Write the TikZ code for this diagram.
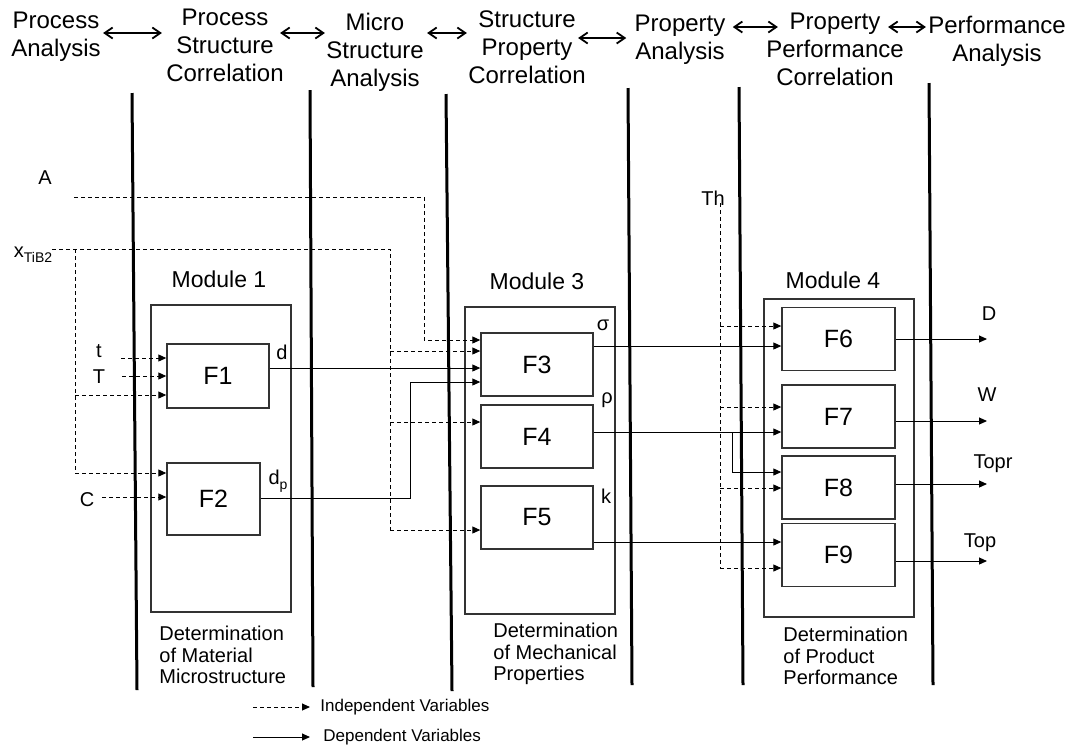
\documentclass[tikz,border=0pt]{standalone}
\usepackage{fontspec}
\setmainfont{Liberation Sans}
\usetikzlibrary{arrows.meta,positioning}
\tikzset{
  divider/.style  = {line width=1.5pt},
  head/.style     = {align=center, inner sep=0pt, anchor=north, font=\fontsize{12}{14}\selectfont},
  harrow/.style   = {{Straight Barb[length=4pt,width=5.5pt]}-{Straight Barb[length=4pt,width=5.5pt]}, line width=0.9pt},
  modbox/.style   = {draw=black!80, line width=0.7pt},
  modlabel/.style = {inner sep=0pt, font=\fontsize{11.5}{13}\selectfont},
  fbox/.style     = {draw=black!80, line width=0.7pt, minimum width=56pt, minimum height=31.5pt, inner sep=0pt, font=\fontsize{12.5}{14}\selectfont},
  var/.style      = {inner sep=0pt, font=\fontsize{10}{12}\selectfont},
  dline/.style    = {dash pattern=on 2pt off 1.5pt, line width=0.5pt},
  indep/.style    = {dline, -{Triangle[length=4pt,width=3.5pt]}},
  dep/.style      = {line width=0.5pt, -{Triangle[length=4pt,width=3.5pt]}},
  detnote/.style  = {anchor=north west, align=left, inner sep=0pt, font=\fontsize{10}{10.75}\selectfont},
  legend/.style   = {anchor=west, inner sep=0pt, font=\fontsize{8.5}{10}\selectfont}
}
\newcommand{\sub}[1]{\raisebox{-0.45ex}{\fontsize{7}{8}\selectfont #1}}

\begin{document}
\begin{tikzpicture}[x=0.5pt, y=-0.5pt]
  \useasboundingbox (0,0) rectangle (1074,746);

  % column dividers
  \draw[divider] (132,93) -- (137,690);
  \draw[divider] (310,90) -- (313,687);
  \draw[divider] (446,94) -- (452,691);
  \draw[divider] (628,88) -- (632,685);
  \draw[divider] (739,87) -- (743,685);
  \draw[divider] (929,83) -- (933,685);

  % stage headings
  \node[head] (h1) at (56,12)  {Process\\Analysis};
  \node[head] (h2) at (225,9)  {Process\\Structure\\Correlation};
  \node[head] (h3) at (375,13) {Micro\\Structure\\Analysis};
  \node[head] (h4) at (527,10) {Structure\\Property\\Correlation};
  \node[head] (h5) at (680,15) {Property\\Analysis};
  \node[head] (h6) at (835,13) {Property\\Performance\\Correlation};
  \node[head] (h7) at (997,16) {Performance\\Analysis};
  \draw[harrow, shorten <=1pt,  shorten >=2pt]   (h1.east |- 0,33) -- (h2.west |- 0,33);
  \draw[harrow, shorten <=-2pt, shorten >=0.5pt] (h2.east |- 0,33) -- (h3.west |- 0,33);
  \draw[harrow, shorten <=1.5pt,shorten >=0.5pt] (h3.east |- 0,33) -- (h4.west |- 0,33);
  \draw[harrow, shorten <=-4pt, shorten >=4pt]   (h4.east |- 0,38) -- (h5.west |- 0,38);
  \draw[harrow, shorten <=3.5pt,shorten >=-6pt]  (h5.east |- 0,27) -- (h6.west |- 0,27);
  \draw[harrow, shorten <=-8pt, shorten >=1pt]   (h6.east |- 0,27) -- (h7.west |- 0,27);

  % modules
  \draw[modbox] (151,305) rectangle (291,612);
  \node[modlabel] (m1) at (219,279) {Module 1};
  \draw[modbox] (465,307) rectangle (615,614);
  \node[modlabel] (m3) at (537,281) {Module 3};
  \draw[modbox] (764,299) rectangle (914,617);
  \node[modlabel] (m4) at (833,280) {Module 4};

  \node[fbox, minimum width=51pt, minimum height=32pt] (f1) at (218,376) {F1};
  \node[fbox, minimum width=46.5pt, minimum height=36pt] (f2) at (213.5,499) {F2};
  \node[fbox] (f3) at (537,364.5) {F3};
  \node[fbox] (f4) at (537,436.5) {F4};
  \node[fbox] (f5) at (537,517.5) {F5};
  \node[fbox, minimum width=56.5pt] (f6) at (838.5,339)   {F6};
  \node[fbox, minimum width=56.5pt] (f7) at (838.5,416.5) {F7};
  \node[fbox, minimum width=56.5pt] (f8) at (838.5,487.5) {F8};
  \node[fbox, minimum width=56.5pt] (f9) at (838.5,555)   {F9};

  % variables
  \node[var] (A)    at (45,178)  {A};
  \node[var] (xtib) at (33,255)  {x\sub{TiB2}};
  \node[var] (t)    at (99,351)  {t};
  \node[var] (T)    at (99,377)  {T};
  \node[var] (C)    at (87,500)  {C};
  \node[var] (d)    at (282,352) {d};
  \node[var] (dp)   at (278,481) {d\sub{p}};
  \node[var] (sig)  at (603,325) {σ};
  \node[var] (rho)  at (607,400) {ρ};
  \node[var] (kap)  at (606,496) {k};
  \node[var] (Th)   at (713,198) {Th};
  \node[var] (D)    at (989,314) {D};
  \node[var] (W)    at (987,395) {W};
  \node[var] (Topr) at (993,464) {Topr};
  \node[var] (Top)  at (980,543) {Top};

  % independent inputs
  \coordinate (a0) at (74,197);
  \coordinate (aknee) at (424,340);
  \draw[indep] (a0) -| (aknee) -- (aknee -| f3.west);

  \coordinate (x0) at (52,249);
  \coordinate (xr) at (390,530);
  \coordinate (xl) at (75,473);
  \draw[dline] (x0) -| (xr);
  \draw[indep] (xr) -- (xr -| f5.west);
  \foreach \y/\f in {351/f3, 422/f4}
    \draw[indep] (390,\y) -- (\f.west |- 0,\y);
  \draw[dline] (75,249) -- (xl);
  \draw[indep] (xl) -- (xl -| f2.west);
  \draw[indep] (75,395) -- (f1.west |- 0,395);

  \coordinate (tin) at (121,358);
  \coordinate (Tin) at (122,376);
  \coordinate (Cin) at (102,497);
  \draw[indep] (tin) -- (tin -| f1.west);
  \draw[indep] (Tin) -- (Tin -| f1.west);
  \draw[indep] (Cin) -- (Cin -| f2.west);

  \coordinate (th0) at (720,203);
  \coordinate (th1) at (720,568);
  \draw[dline] (th0) -- (th1);
  \foreach \y/\f in {326/f6, 407/f7, 488/f8, 568/f9}
    \draw[indep] (720,\y) -- (\f.west |- 0,\y);

  % dependent links
  \draw[dep] (f1.east |- 0,368) -- (f3.west |- 0,368);
  \draw[dep] (f2.east |- 0,498) -| (410,382) -- (f3.west |- 0,382);
  \draw[dep] (f3.east |- 0,346) -- (f6.west |- 0,346);
  \draw[dep] (f4.east |- 0,432) -- (f7.west |- 0,432);
  \draw[dep] (732,432) |- (f8.west |- 0,472);
  \draw[dep] (f5.east |- 0,542) -- (f9.west |- 0,542);
  \foreach \f/\y in {f6/339, f7/421, f8/484, f9/561}
    \draw[dep] (\f.east |- 0,\y) -- (987,\y);

  % module notes
  \node[detnote] (c1) at (159,626) {Determination\\of Material\\Microstructure};
  \node[detnote] (c3) at (493,623) {Determination\\of Mechanical\\Properties};
  \node[detnote] (c4) at (783,627) {Determination\\of Product\\Performance};

  % legend
  \node[legend] (lgi) at (320,707) {Independent Variables};
  \node[legend] (lgd) at (323,737) {Dependent Variables};
  \draw[indep, shorten >=5pt]   (253,707) -- (lgi.west);
  \draw[dep, shorten >=6.5pt]   (253,737) -- (lgd.west);
\end{tikzpicture}
\end{document}
